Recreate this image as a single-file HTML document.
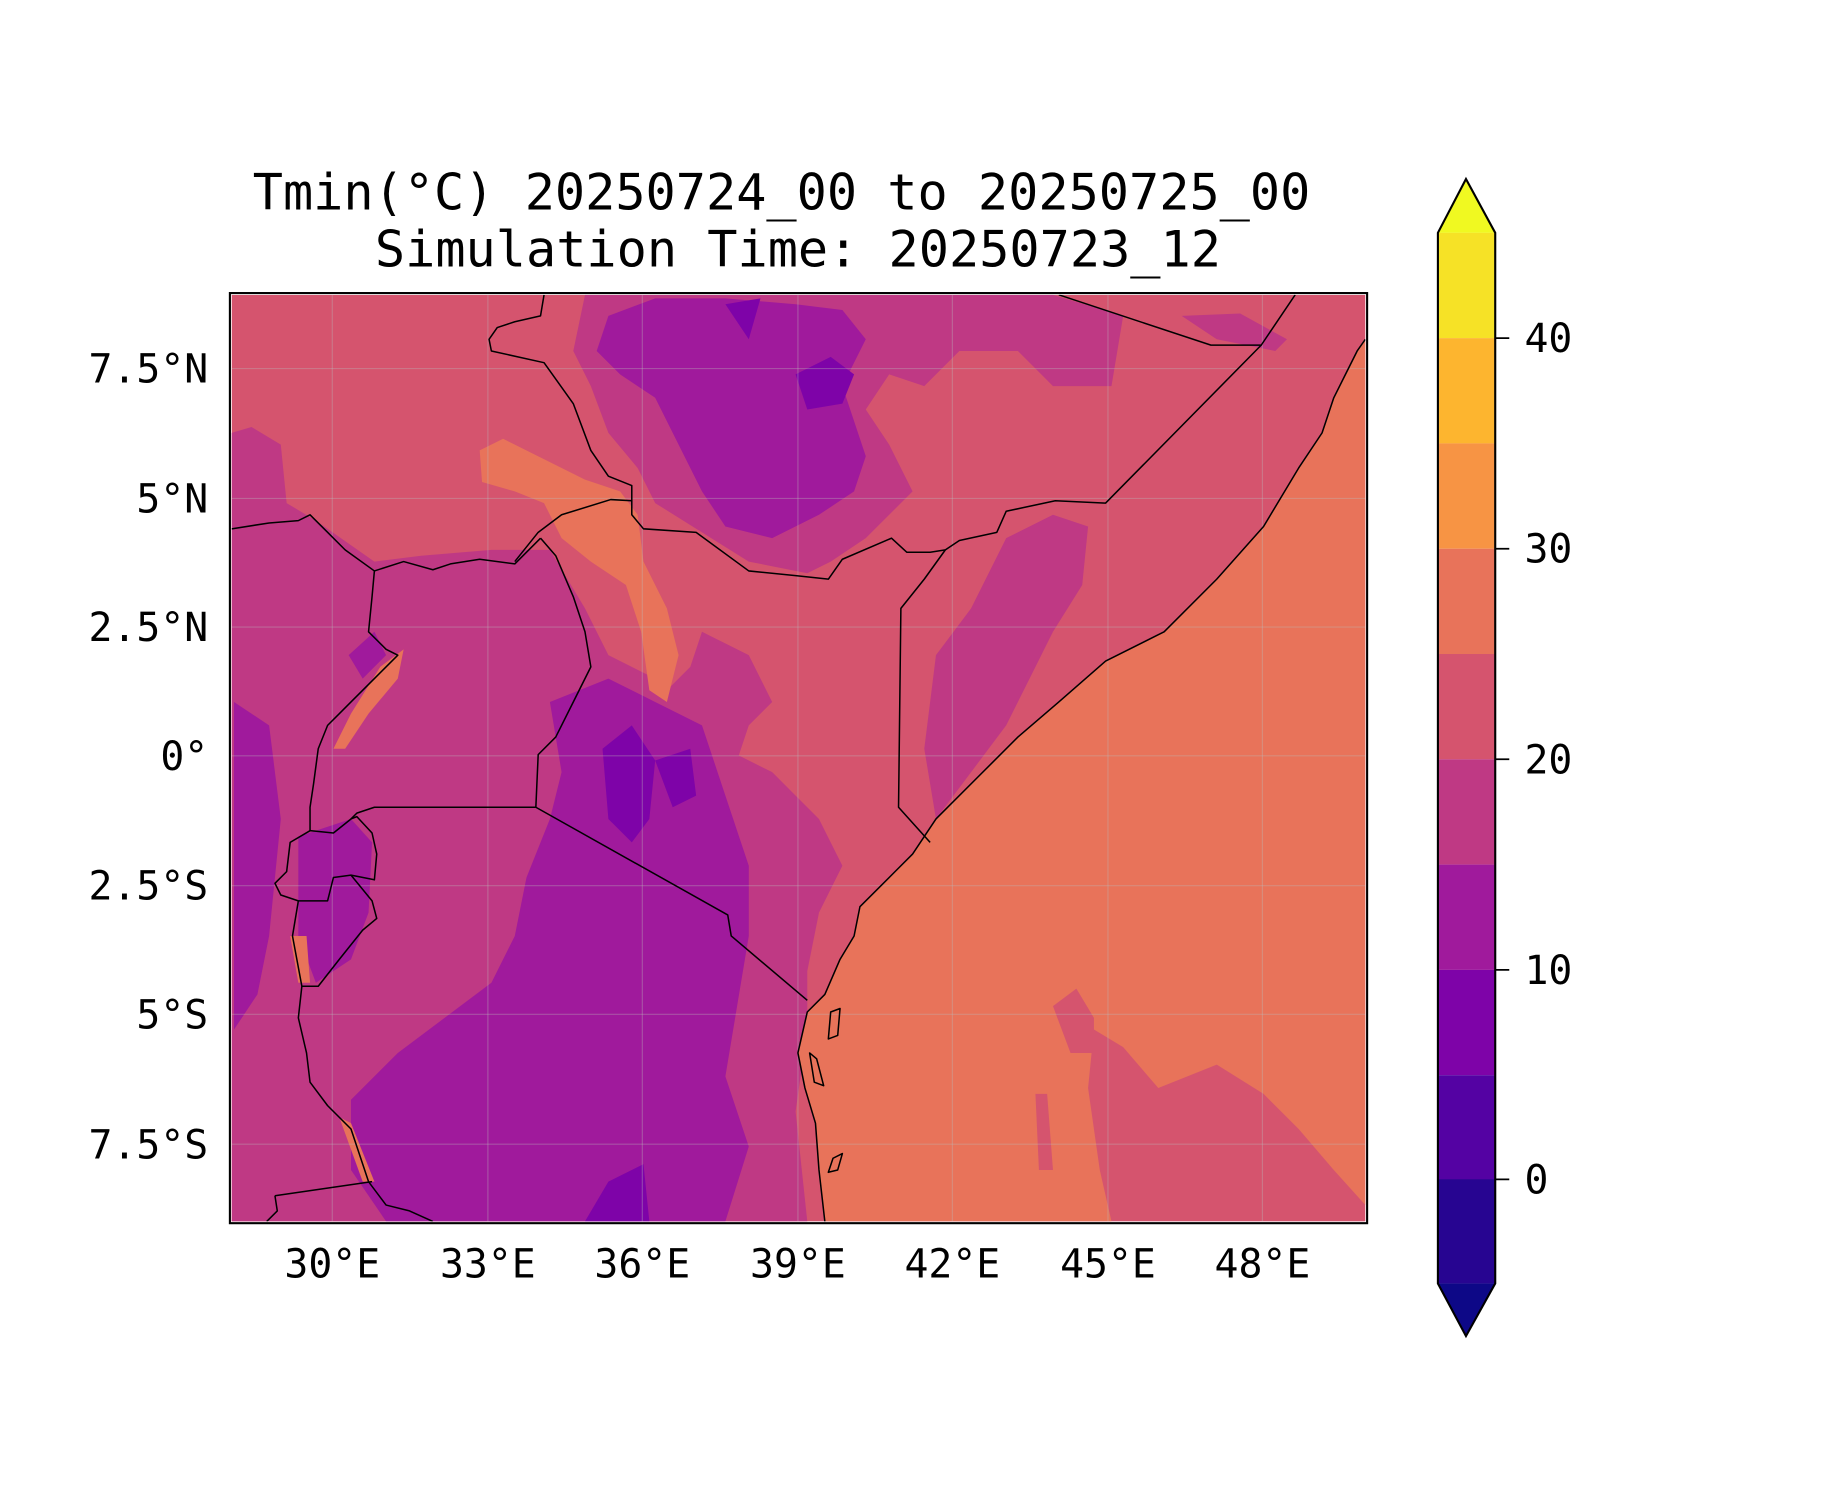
<!DOCTYPE html>
<html><head><meta charset="utf-8"><style>html,body{margin:0;padding:0;background:#fff}svg{display:block}</style></head><body>
<svg width="1833" height="1500" viewBox="0 0 1566.7 1282.1" preserveAspectRatio="none" xmlns="http://www.w3.org/2000/svg" font-family="'DejaVu Sans Mono','Liberation Mono',monospace">
<rect width="1570" height="1290" fill="#fff"/>
<text x="668" y="179" font-size="42.9" text-anchor="middle">Tmin(°C) 20250724_00 to 20250725_00</text>
<text x="682" y="228" font-size="42.9" text-anchor="middle">Simulation Time: 20250723_12</text>
<defs><clipPath id="c"><rect x="198" y="252" width="969" height="792"/></clipPath></defs>
<g clip-path="url(#c)">
<rect x="198" y="252" width="969" height="792" fill="#d5546e"/>
<path fill="#bf3984" d="M198,370 L215,365 L240,380 L245,430 L270,445 L320,480 L360,475 L420,470 L470,470 L500,520 L520,560 L560,580 L600,600 L620,640 L660,660 L700,700 L720,740 L700,780 L690,830 L690,880 L680,950 L690,1044 L198,1044 Z"/>
<path fill="#bf3984" d="M500,252 L900,252 L960,270 L950,330 L900,330 L870,300 L820,300 L790,330 L760,320 L740,350 L760,380 L780,420 L760,440 L740,460 L710,480 L690,490 L640,480 L600,455 L560,430 L545,400 L520,370 L505,330 L490,300 Z"/>
<path fill="#bf3984" d="M1010,270 L1060,268 L1100,290 L1090,300 L1040,290 Z"/>
<path fill="#bf3984" d="M860,460 L900,440 L930,450 L925,500 L900,540 L880,580 L860,620 L830,660 L800,700 L790,640 L800,560 L830,520 Z"/>
<path fill="#bf3984" d="M560,600 L590,570 L600,540 L640,560 L660,600 L640,620 L630,650 Z"/>
<path fill="#a01a9c" d="M520,270 L560,255 L620,255 L680,260 L720,265 L740,290 L720,330 L740,390 L730,420 L700,440 L660,460 L620,450 L600,420 L580,380 L560,340 L530,320 L510,300 Z"/>
<path fill="#a01a9c" d="M470,600 L520,580 L560,600 L600,620 L620,680 L640,740 L640,800 L630,860 L620,920 L640,980 L620,1044 L330,1044 L300,1000 L300,940 L340,900 L380,870 L420,840 L440,800 L450,750 L470,700 L480,660 Z"/>
<path fill="#a01a9c" d="M200,600 L230,620 L240,700 L230,800 L220,850 L200,880 Z"/>
<path fill="#a01a9c" d="M255,715 L300,700 L318,720 L315,780 L300,820 L270,840 L255,800 Z"/>
<path fill="#a01a9c" d="M298,560 L320,540 L330,560 L310,580 Z"/>
<path fill="#7e03a8" d="M515,640 L540,620 L560,650 L555,700 L540,720 L520,700 Z"/>
<path fill="#7e03a8" d="M560,650 L590,640 L595,680 L575,690 Z"/>
<path fill="#7e03a8" d="M680,320 L710,305 L730,320 L720,345 L690,350 Z"/>
<path fill="#7e03a8" d="M500,1044 L520,1010 L550,995 L555,1044 Z"/>
<path fill="#7e03a8" d="M620,260 L650,255 L640,290 Z"/>
<path fill="#e8735a" d="M410,385 L430,375 L470,395 L500,410 L530,420 L545,440 L550,480 L570,520 L580,560 L570,600 L555,590 L548,540 L535,500 L505,480 L480,460 L465,430 L440,420 L412,412 Z"/>
<path fill="#e8735a" d="M300,610 L325,570 L345,555 L340,580 L315,610 L295,640 L285,640 Z"/>
<path fill="#e8735a" d="M248,800 L262,800 L265,840 L255,840 Z"/>
<path fill="#e8735a" d="M290,955 L300,960 L320,1010 L310,1010 Z"/>
<path fill="#e8735a" d="M1167,290 L1160,300 L1150,320 L1140,340 L1130,370 L1110,400 L1080,450 L1040,495 L995,540 L945,565 L905,600 L870,630 L835,665 L800,700 L780,730 L765,745 L750,760 L735,775 L730,800 L718,820 L705,850 L690,865 L682,900 L688,930 L697,960 L700,1000 L705,1044 L950,1044 L940,1000 L930,930 L935,880 L960,895 L990,930 L1040,910 L1080,935 L1110,965 L1140,1000 L1167,1030 Z"/>
<path fill="#d5546e" d="M900,860 L920,845 L935,870 L935,900 L915,900 Z"/>
<path fill="#d5546e" d="M885,935 L895,935 L900,1000 L888,1000 Z"/>
<g stroke="#bbb" stroke-opacity="0.35" stroke-width="1">
<path d="M284,252V1044M417,252V1044M549,252V1044M682,252V1044M814,252V1044M947,252V1044M1079,252V1044"/>
<path d="M198,315H1167M198,426H1167M198,536H1167M198,646H1167M198,757H1167M198,867H1167M198,978H1167"/>
</g>
<g fill="none" stroke="#000" stroke-width="1.3" stroke-linejoin="round">
<polyline points="905,252 1035,295 1078,295 1107,252"/>
<polyline points="1078,295 945,430 902,428 860,437 852,455 820,462 808,470 790,495 770,520 768,690 795,720"/>
<polyline points="808,470 795,472 775,472 762,460 720,478 708,495 680,492 640,488 595,455 550,452 540,440 540,415 520,407 505,385 490,345 465,310 420,300 418,290 425,280 440,275 462,270 465,252"/>
<polyline points="540,428 522,427 480,440 460,455 440,480"/>
<polyline points="198,452 230,447 255,445 265,440 280,455 295,470 320,488 345,480 370,487 385,482 410,478 440,482 462,460"/>
<polyline points="462,460 475,475 490,510 500,540 505,570 490,600 475,630 460,645 458,690"/>
<polyline points="458,690 320,690 305,695 300,700"/>
<polyline points="320,488 318,510 315,540 330,555 340,560 320,580 300,600 290,610 280,620 272,640 268,670 265,690 265,710"/>
<polyline points="458,690 622,782 625,800 690,855"/>
<polyline points="265,710 248,720 245,745 235,755 240,765 255,770 280,770 285,750 300,748 320,752 322,730 318,712 305,698 300,700 285,712 265,710"/>
<polyline points="255,770 250,800 258,843 272,843 290,820 310,795 322,785 318,770 300,748"/>
<polyline points="258,843 255,870 262,900 265,925 280,945 300,965 315,1010 330,1030 350,1035 370,1044"/>
<polyline points="235,1022 318,1010"/>
<polyline points="235,1022 237,1035 228,1044"/>
<polyline points="1167,290 1160,300 1150,320 1140,340 1130,370 1110,400 1080,450 1040,495 995,540 945,565 905,600 870,630 835,665 800,700 780,730 765,745 750,760 735,775 730,800 718,820 705,850 690,865 682,900 688,930 697,960 700,1000 705,1044"/>
<path d="M710,865 L718,862 L716,885 L708,888 Z M692,900 L698,905 L704,928 L696,925 Z M712,990 L720,986 L716,1000 L708,1002 Z"/>
</g>
</g>
<rect x="196.5" y="250.5" width="972" height="795" fill="none" stroke="#000" stroke-width="1.8"/>
<g font-size="34" text-anchor="middle">
<text x="284" y="1092">30°E</text><text x="417" y="1092">33°E</text><text x="549" y="1092">36°E</text><text x="682" y="1092">39°E</text><text x="814" y="1092">42°E</text><text x="947" y="1092">45°E</text><text x="1079" y="1092">48°E</text>
</g>
<g font-size="34" text-anchor="end">
<text x="178" y="327">7.5°N</text><text x="178" y="438">5°N</text><text x="178" y="548">2.5°N</text><text x="178" y="658">0°</text><text x="178" y="769">2.5°S</text><text x="178" y="879">5°S</text><text x="178" y="990">7.5°S</text>
</g>
<g>
<polygon points="1229,199 1253,153 1278,199" fill="#f0f921"/>
<rect x="1229" y="199" width="49" height="90" fill="#f6e226"/>
<rect x="1229" y="289" width="49" height="90" fill="#fdb52f"/>
<rect x="1229" y="379" width="49" height="90" fill="#f79444"/>
<rect x="1229" y="469" width="49" height="90" fill="#e8735a"/>
<rect x="1229" y="559" width="49" height="90" fill="#d5546e"/>
<rect x="1229" y="649" width="49" height="90" fill="#bf3984"/>
<rect x="1229" y="739" width="49" height="90" fill="#a01a9c"/>
<rect x="1229" y="829" width="49" height="90" fill="#7e03a8"/>
<rect x="1229" y="919" width="49" height="90" fill="#5402a3"/>
<rect x="1229" y="1008" width="49" height="89" fill="#270591"/>
<polygon points="1229,1097 1253,1142 1278,1097" fill="#0d0887"/>
<polygon points="1229,199 1253,153 1278,199 1278,1097 1253,1142 1229,1097" fill="none" stroke="#000" stroke-width="1.8"/>
<g stroke="#000" stroke-width="1.5"><path d="M1278,289H1290M1278,469H1290M1278,649H1290M1278,829H1290M1278,1008H1290"/></g>
<g font-size="34"><text x="1303" y="301">40</text><text x="1303" y="481">30</text><text x="1303" y="661">20</text><text x="1303" y="841">10</text><text x="1303" y="1020">0</text></g>
</g>
</svg>
</body></html>
